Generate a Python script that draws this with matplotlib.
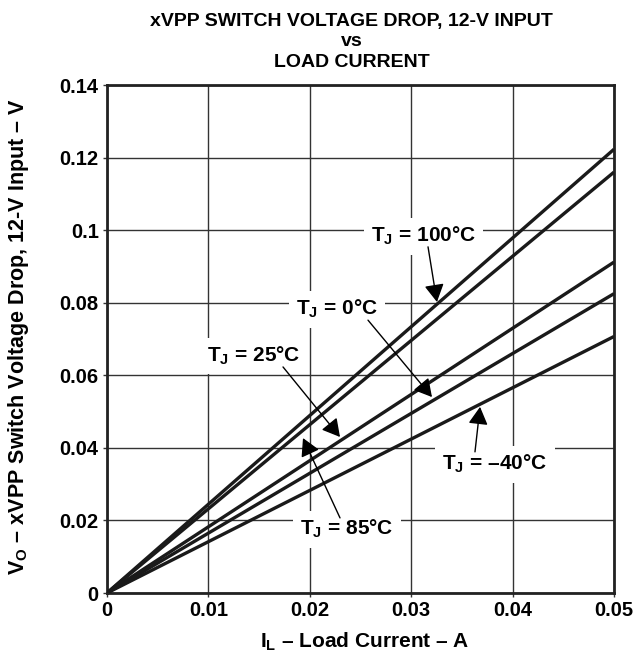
import matplotlib
matplotlib.use('Agg')
import matplotlib.pyplot as plt

####################################
# Data
####################################

# load current (A) - lines are straight from the origin
current = [0.0, 0.05]

# voltage drop (V) at 0 and 0.05 A for each junction temperature
drop_100 = [0.0, 0.1223]
drop_85 = [0.0, 0.1160]
drop_25 = [0.0, 0.0912]
drop_0 = [0.0, 0.0825]
drop_m40 = [0.0, 0.0707]

x_ticks = [0, 0.01, 0.02, 0.03, 0.04, 0.05]
x_tick_labels = ['0', '0.01', '0.02', '0.03', '0.04', '0.05']
y_ticks = [0, 0.02, 0.04, 0.06, 0.08, 0.1, 0.12, 0.14]
y_tick_labels = ['0', '0.02', '0.04', '0.06', '0.08', '0.1', '0.12', '0.14']

title_lines = ['xVPP SWITCH VOLTAGE DROP, 12-V INPUT', 'vs', 'LOAD CURRENT']

# label text, text position (centre x, baseline y), arrow tail, arrow tip (data coords)
labels = [r'$\mathregular{T_J}$ = 100°C', r'$\mathregular{T_J}$ = 0°C', r'$\mathregular{T_J}$ = 25°C',
          r'$\mathregular{T_J}$ = 85°C', r'$\mathregular{T_J}$ = –40°C']
label_pos = [(0.0312, 0.0967), (0.0227, 0.0766), (0.0145, 0.0637), (0.02364, 0.0160), (0.03826, 0.0339)]
arrow_tail = [(0.03166, 0.0954), (0.02574, 0.0752), (0.01736, 0.0623), (0.02298, 0.0207), (0.03629, 0.0389)]
arrow_tip = [(0.03254, 0.0802), (0.03205, 0.0540), (0.02298, 0.0430), (0.01933, 0.0427), (0.03679, 0.0513)]

####################################
# Style
####################################

plt.rcParams['font.family'] = ['Liberation Sans', 'DejaVu Sans']
plt.rcParams['font.weight'] = 'bold'
plt.rcParams['mathtext.fontset'] = 'custom'
plt.rcParams['mathtext.rm'] = 'Liberation Sans:bold'
plt.rcParams['mathtext.it'] = 'Liberation Sans:bold'
plt.rcParams['mathtext.bf'] = 'Liberation Sans:bold'

fig = plt.figure(figsize=(6.39, 6.57), dpi=100)
ax = fig.add_axes([0.1674, 0.0974, 0.7935, 0.7732])

for ys in [drop_100, drop_85, drop_25, drop_0, drop_m40]:
    ax.plot(current, ys, color='#1a1a1a', lw=2.4, solid_capstyle='butt', zorder=3)

ax.set_xlim(0, 0.05)
ax.set_ylim(0, 0.14)
ax.set_xticks(x_ticks)
ax.set_xticklabels(x_tick_labels, fontsize=14.5, fontweight='bold')
ax.set_yticks(y_ticks)
ax.set_yticklabels(y_tick_labels, fontsize=14.5, fontweight='bold')
ax.tick_params(length=3, width=1, color='#333333', pad=3)
ax.grid(True, color='#333333', lw=1)
ax.set_axisbelow(True)
for sp in ax.spines.values():
    sp.set_linewidth(2)
    sp.set_color('#222222')

ax.set_xlabel(r'$\mathregular{I_L}$ – Load Current – A', fontsize=15, fontweight='bold', va='top')
ax.xaxis.set_label_coords(0.509, -0.074)
ax.set_ylabel(r'$\mathregular{V_O}$ – xVPP Switch Voltage Drop, 12-V Input – V', fontsize=15.5,
              fontweight='bold')
ax.yaxis.set_label_coords(-0.15, 0.504)

# three line title, baselines placed by hand
for line, yb in zip(title_lines, [0.9605, 0.930, 0.8985]):
    fig.text(0.550, yb, line, ha='center', va='baseline', fontsize=14, fontweight='bold')

# Labels with arrows
for text, pos, tail, tip in zip(labels, label_pos, arrow_tail, arrow_tip):
    ax.text(pos[0], pos[1], text, ha='center', va='baseline', fontsize=15, fontweight='bold', zorder=4,
            bbox=dict(facecolor='white', edgecolor='none', boxstyle='square,pad=0.35'))
    ax.annotate('', xy=tip, xytext=tail, zorder=5,
                arrowprops=dict(arrowstyle='-|>,head_length=0.9,head_width=0.5', lw=1, color='black',
                                mutation_scale=12, shrinkA=0, shrinkB=0))

fig.savefig('out.png', dpi=100)
